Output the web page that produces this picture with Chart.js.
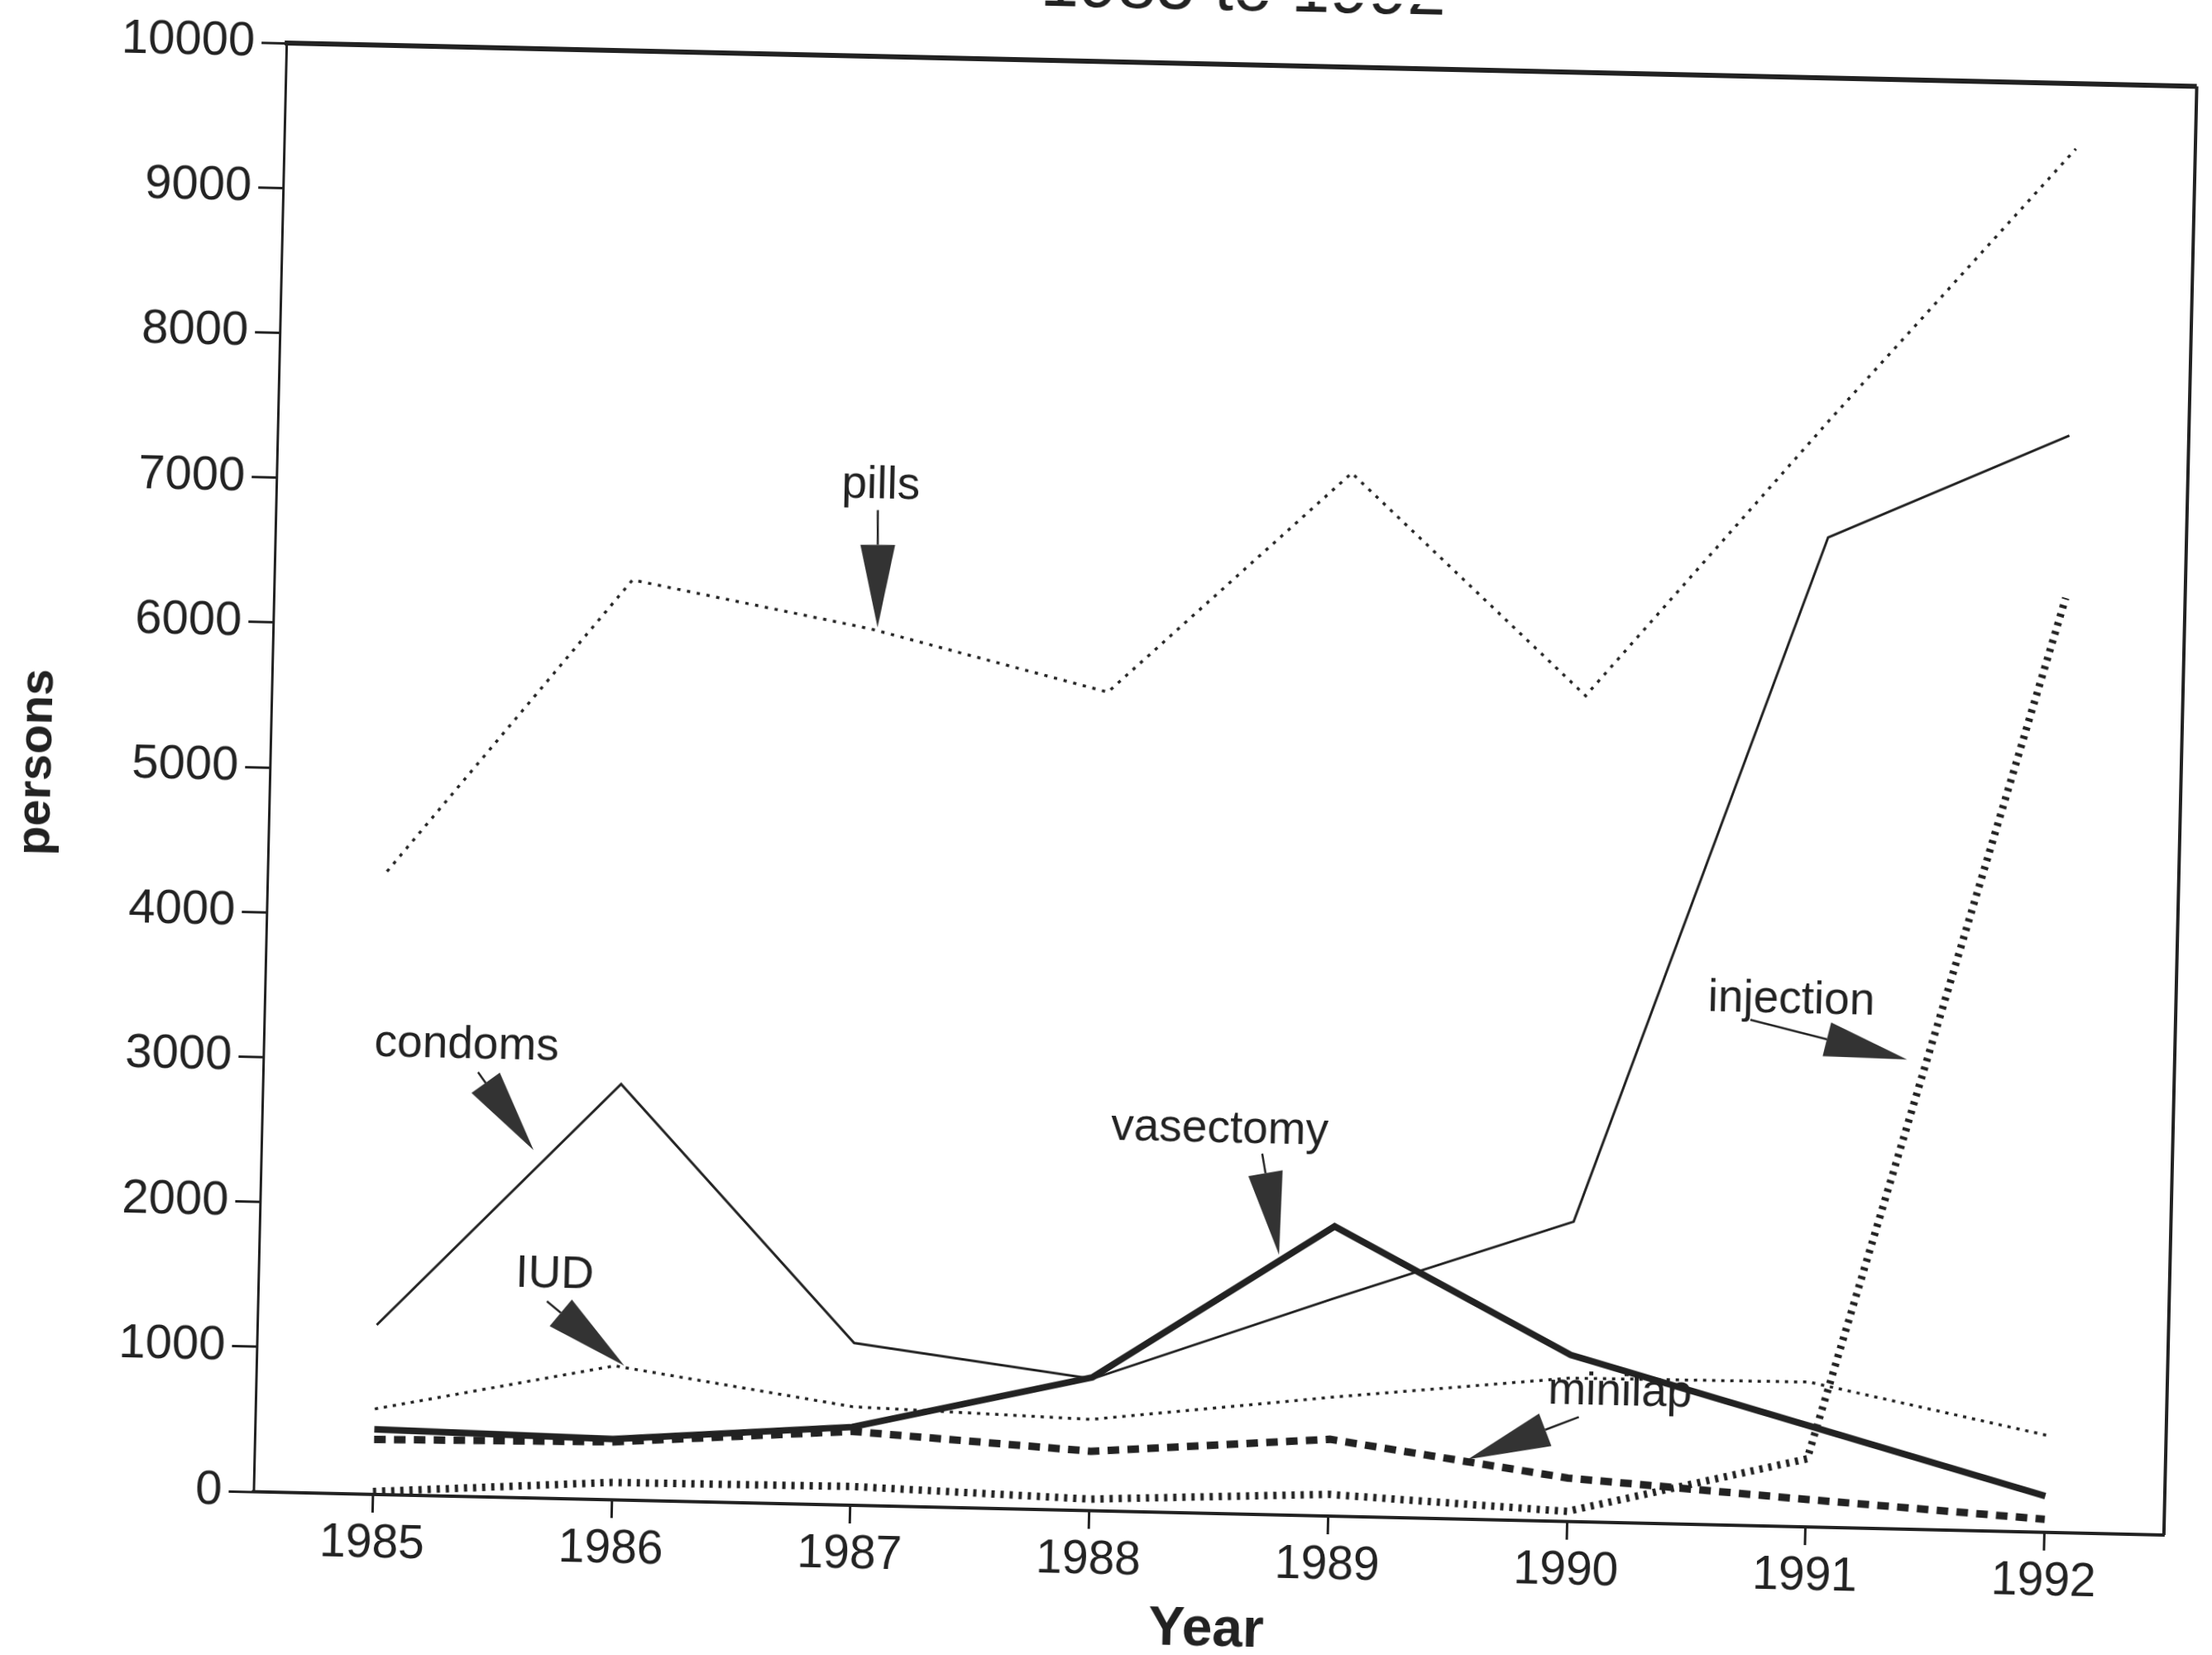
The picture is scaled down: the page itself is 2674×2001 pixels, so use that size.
<!DOCTYPE html>
<html lang="en">
<head>
    <meta charset="UTF-8">
    <title>Contraceptive acceptors 1985 to 1992</title>
    <script src="https://cdn.jsdelivr.net/npm/chart.js"></script>
    <style>
        body {
            margin: 0;
            background: #fff;
            overflow: hidden;
        }

        /* the scanned page is slightly skewed, so the whole chart is turned a little */
        #wrap {
            position: absolute;
            left: 0;
            top: 0;
            width: 2674px;
            height: 2001px;
            transform: rotate(1.3deg);
            transform-origin: 1481px 954px;
        }
    </style>
</head>
<body>
    <div id="wrap">
        <canvas id="chart"></canvas>
    </div>

    <script>
        // Data
        const years = [1985, 1986, 1987, 1988, 1989, 1990, 1991, 1992];
        const pills = [4300, 6350, 6050, 5650, 7200, 5700, 7650, 9550];
        const condoms = [1170, 2870, 1120, 910, 1500, 2070, 6830, 7570];
        const iud = [590, 925, 680, 630, 820, 990, 1000, 670];
        const vasectomy = [450, 420, 540, 920, 2000, 1150, 700, 250];
        const minilap = [380, 400, 510, 410, 530, 300, 190, 90];
        const injection = [20, 120, 130, 80, 150, 70, 470, 6450];
        const yTicks = [0, 1000, 2000, 3000, 4000, 5000, 6000, 7000, 8000, 9000, 10000];

        // Labels with arrows, in data units: [year, persons]
        const notes = [
            { text: 'pills', label: [1987.03, 7040], tail: [1987.02, 6870], tip: [1987.03, 6060] },
            { text: 'condoms', label: [1985.35, 3110], tail: [1985.40, 2930], tip: [1985.64, 2400] },
            { text: 'IUD', label: [1985.74, 1540], tail: [1985.71, 1360], tip: [1986.04, 927] },
            { text: 'vasectomy', label: [1988.51, 2650], tail: [1988.69, 2490], tip: [1988.77, 1795] },
            { text: 'injection', label: [1990.89, 3630], tail: [1990.72, 3490], tip: [1991.38, 3240] },
            { text: 'minilap', label: [1990.21, 896], tail: [1990.04, 723], tip: [1989.58, 414] }
        ];

        const ink = '#222';
        const family = '"Liberation Sans", Arial, sans-serif';
        const toXY = arr => arr.map((v, i) => ({ x: years[i], y: v }));

        function series(data, width, dash) {
            return {
                data: toXY(data),
                borderColor: ink,
                borderWidth: width,
                borderDash: dash,
                borderCapStyle: 'butt',
                pointRadius: 0,
                tension: 0,
                fill: false
            };
        }

        // Frame, title and arrow notes
        const overlay = {
            id: 'overlay',
            afterDraw(chart) {
                const { ctx, chartArea: a, scales: { x, y } } = chart;
                ctx.save();

                // top and right sides of the box
                ctx.strokeStyle = ink;
                ctx.lineWidth = 6;
                ctx.beginPath();
                ctx.moveTo(a.left - 2, a.top);
                ctx.lineTo(a.right, a.top);
                ctx.stroke();
                ctx.lineWidth = 4;
                ctx.beginPath();
                ctx.moveTo(a.right, a.top);
                ctx.lineTo(a.right, a.bottom);
                ctx.stroke();

                // title, cut off by the top of the page
                ctx.fillStyle = ink;
                ctx.font = '84px ' + family;
                ctx.textAlign = 'center';
                ctx.textBaseline = 'alphabetic';
                ctx.fillText('1985 to 1992', (a.left + a.right) / 2, 12);

                // notes
                ctx.font = '55px ' + family;
                ctx.textBaseline = 'middle';
                notes.forEach(n => {
                    const lx = x.getPixelForValue(n.label[0]), ly = y.getPixelForValue(n.label[1]);
                    const tx = x.getPixelForValue(n.tail[0]), ty = y.getPixelForValue(n.tail[1]);
                    const hx = x.getPixelForValue(n.tip[0]), hy = y.getPixelForValue(n.tip[1]);
                    ctx.fillStyle = ink;
                    ctx.fillText(n.text, lx, ly);

                    const dx = hx - tx, dy = hy - ty;
                    const len = Math.hypot(dx, dy);
                    const ux = dx / len, uy = dy / len;
                    const L = Math.min(100, len), W = 21;
                    const bx = hx - ux * L, by = hy - uy * L;
                    ctx.strokeStyle = ink;
                    ctx.lineWidth = 2.5;
                    ctx.beginPath();
                    ctx.moveTo(tx, ty);
                    ctx.lineTo(bx, by);
                    ctx.stroke();
                    ctx.fillStyle = '#333';
                    ctx.beginPath();
                    ctx.moveTo(bx - uy * W, by + ux * W);
                    ctx.lineTo(hx, hy);
                    ctx.lineTo(bx + uy * W, by - ux * W);
                    ctx.closePath();
                    ctx.fill();
                });
                ctx.restore();
            }
        };

        new Chart(document.getElementById('chart'), {
            type: 'line',
            data: {
                datasets: [
                    series(pills, 3.5, [4, 8]),
                    series(condoms, 3, []),
                    series(iud, 3.5, [4, 7]),
                    series(vasectomy, 8, []),
                    series(minilap, 9, [14, 10]),
                    series(injection, 9, [4, 7])
                ]
            },
            options: {
                responsive: true,
                maintainAspectRatio: false,
                animation: false,
                devicePixelRatio: 1,
                layout: { padding: { top: 78, right: 38, left: 0, bottom: 0 } },
                plugins: {
                    legend: { display: false },
                    tooltip: { enabled: false }
                },
                scales: {
                    x: {
                        type: 'linear',
                        min: 1984.5,
                        max: 1992.5,
                        afterBuildTicks: s => { s.ticks = years.map(v => ({ value: v })); },
                        afterFit: s => { s.height = 171; },
                        grid: { drawOnChartArea: false, tickLength: 22, tickWidth: 3, tickColor: ink },
                        border: { display: true, width: 4, color: ink },
                        ticks: {
                            callback: v => String(v),
                            font: { family: family, size: 57 },
                            color: ink,
                            padding: 4,
                            maxRotation: 0,
                            autoSkip: false
                        },
                        title: {
                            display: true,
                            text: 'Year',
                            font: { family: family, size: 66, weight: 'bold', lineHeight: 1 },
                            color: ink,
                            padding: { top: 0, bottom: -4 }
                        }
                    },
                    y: {
                        min: 0,
                        max: 10000,
                        afterBuildTicks: s => { s.ticks = yTicks.map(v => ({ value: v })); },
                        afterFit: s => { s.width = 326; },
                        grid: { drawOnChartArea: false, tickLength: 30, tickWidth: 3, tickColor: ink },
                        border: { display: true, width: 3, color: ink },
                        ticks: {
                            callback: v => String(v),
                            font: { family: family, size: 58 },
                            color: ink,
                            padding: 8
                        },
                        title: {
                            display: true,
                            text: 'persons',
                            font: { family: family, size: 58, weight: 'bold' },
                            color: ink,
                            padding: { top: 10, bottom: 0 }
                        }
                    }
                }
            },
            plugins: [overlay]
        });
    </script>
</body>
</html>
